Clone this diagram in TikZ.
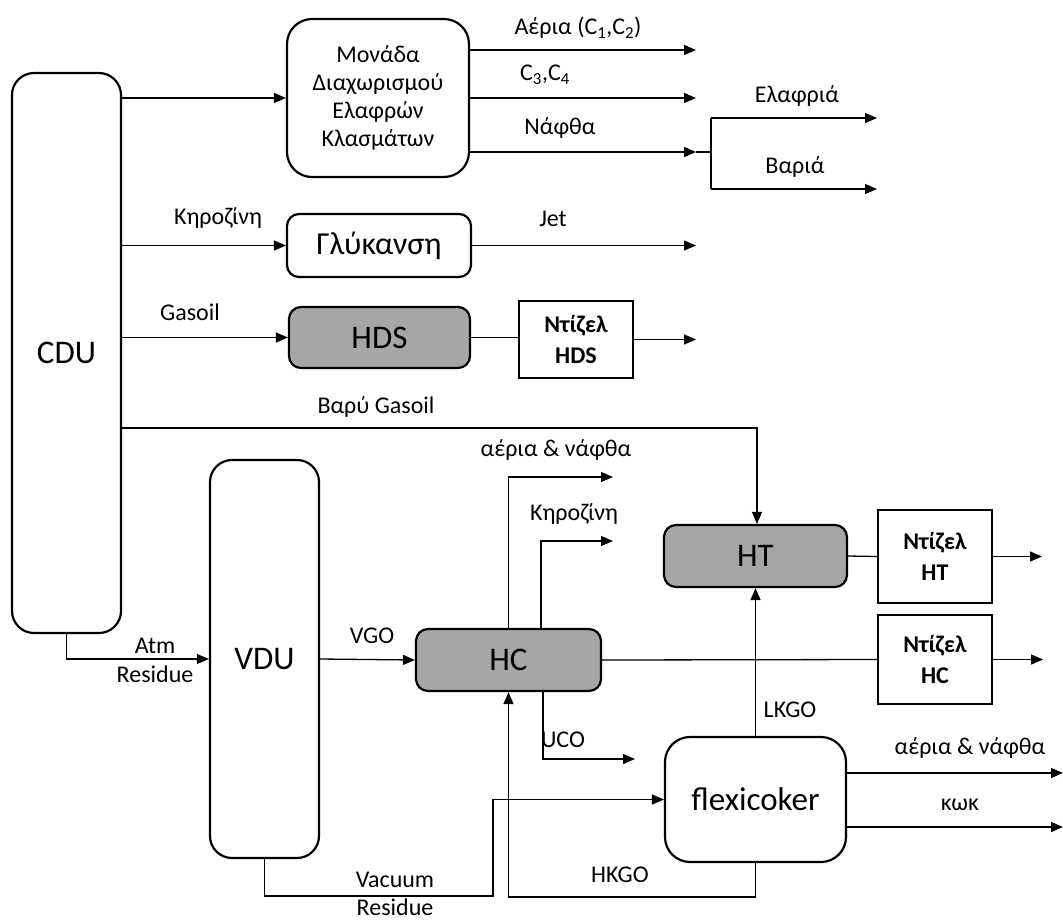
\documentclass[tikz,border=0pt]{standalone}
\usepackage{fontspec}
\setmainfont{Carlito}
\usepackage{tikz}
\usetikzlibrary{arrows.meta,positioning,calc}

\tikzset{
	unit/.style={draw,line width=2.2pt,rounded corners=12pt,align=center,inner sep=0pt,font=\fontsize{33}{36}\selectfont},
	grayunit/.style={unit,fill=black!35},
	product/.style={draw,line width=2.2pt,align=center,inner sep=0pt,font=\bfseries\fontsize{24}{31}\selectfont},
	flow/.style={line width=1.3pt,-{Triangle[length=12pt,width=10pt]}},
	pipe/.style={line width=1.3pt},
	lbl/.style={font=\fontsize{24}{29}\selectfont,align=center,inner sep=0pt}
}

\begin{document}
\begin{tikzpicture}[x=1pt,y=-1pt]
		\useasboundingbox (0,0) rectangle (1063,922);
		% units
		\node[unit,rounded corners=22pt,minimum width=109pt,minimum height=560pt] (cdu) at (66.5,353) {CDU};
		\node[unit,rounded corners=25pt,minimum width=182pt,minimum height=158pt,font=\fontsize{24}{28}\selectfont] (sep) at (378,98) {Μονάδα\\Διαχωρισμού\\Ελαφρών\\Κλασμάτων};
		\node[unit,minimum width=184pt,minimum height=63pt,font=\fontsize{32}{36}\selectfont] (glyk) at (379,245.5) {Γλύκανση};
		\node[grayunit,minimum width=181pt,minimum height=61pt] (hds) at (379.5,337.5) {HDS};
		\node[product,minimum width=114pt,minimum height=77pt] (dhds) at (576,339.5) {Ντίζελ\\HDS};
		\node[unit,rounded corners=22pt,minimum width=109pt,minimum height=398pt] (vdu) at (264.5,659) {VDU};
		\node[grayunit,minimum width=185pt,minimum height=62pt] (hc) at (508.5,660) {HC};
		\node[grayunit,minimum width=183pt,minimum height=62pt] (ht) at (755.5,556) {HT};
		\node[product,minimum width=114pt,minimum height=93pt] (dht) at (935,556.5) {Ντίζελ\\HT};
		\node[product,minimum width=114pt,minimum height=89pt] (dhc) at (935,659.5) {Ντίζελ\\HC};
		\node[unit,rounded corners=25pt,minimum width=181pt,minimum height=125pt] (flex) at (755.5,799.5) {flexicoker};
		% light ends
		\draw[flow] (cdu.east |- sep.west) -- (sep.west);
		\draw[flow] (sep.east |- 0,50) -- (696,50);
		\node[lbl] (gas) at (578,28) {Αέρια (C\textsubscript{1},C\textsubscript{2})};
		\draw[flow] (sep.east |- 0,98) -- (696,98);
		\node[lbl] (lpg) at (545,75) {C\textsubscript{3},C\textsubscript{4}};
		\coordinate (split) at (711,152);
		\draw[flow] (sep.east |- split) -- (696,152);
		\draw[pipe] (696,152) -- (split);
		\draw[pipe] (711,118) -- (711,189);
		\draw[flow] (711,118) -- (877,118);
		\draw[flow] (711,189) -- (877,189);
		\node[lbl] (naph) at (560,128) {Νάφθα};
		\node[lbl] (light) at (797,96) {Ελαφριά};
		\node[lbl] (heavy) at (795,167) {Βαριά};
		% kerosene, gasoil
		\draw[flow] (cdu.east |- glyk.west) -- (glyk.west);
		\node[lbl] (ker) at (218,218) {Κηροζίνη};
		\draw[flow] (glyk.east) -- (696,245.5);
		\node[lbl] (jet) at (553,219) {Jet};
		\draw[flow] (cdu.east |- hds.west) -- (hds.west);
		\node[lbl] (go) at (190,312) {Gasoil};
		\draw[pipe] (hds.east) -- (hds.east -| dhds.west);
		\draw[flow] (dhds.east) -- (696,339.5);
		\coordinate (hgo) at (757,428);
		\draw[flow] (cdu.east |- hgo) -- (hgo) -- (ht.north -| hgo);
		\node[lbl] (hgol) at (376,407) {Βαρύ Gasoil};
		% vacuum section
		\draw[flow] (cdu.south) |- (vdu.west);
		\node[lbl] (atm) at (155,660) {Atm\\Residue};
		\draw[flow] (vdu.east) -- (hc.west);
		\node[lbl] (vgo) at (372,636) {VGO};
		\draw[flow] (hc.north) |- (613,477);
		\node[lbl] (hcgas) at (556,450) {αέρια \& νάφθα};
		\draw[flow] (541,629) |- (613,541);
		\node[lbl] (hcker) at (574,514) {Κηροζίνη};
		\draw[flow] (543,691) |- (635,759);
		\node[lbl] (uco) at (563,740) {UCO};
		\draw[pipe] (hc.east) -- (dhc.west);
		\draw[flow] (dhc.east) -- (1043,659.5);
		\draw[pipe] (ht.east) -- (dht.west);
		\draw[flow] (dht.east) -- (1042,556.5);
		% flexicoker
		\draw[flow] (ht.south |- flex.north) -- (ht.south);
		\node[lbl] (lkgo) at (790,710) {LKGO};
		\draw[flow] (flex.east |- 0,773) -- (1063,773);
		\node[lbl] (fxgas) at (970,748) {αέρια \& νάφθα};
		\draw[flow] (flex.east |- 0,827) -- (1063,827);
		\node[lbl] (coke) at (960,805) {κωκ};
		\coordinate (hk) at (508.5,897);
		\draw[flow] (flex.south) |- (hk) -- (hc.south);
		\node[lbl] (hkgo) at (620,875) {HKGO};
		\coordinate (vr) at (493,896);
		\draw[flow] (vdu.south) |- (vr) |- (flex.west);
		\node[lbl,font=\fontsize{24}{28}\selectfont] (vres) at (395,894) {Vacuum\\Residue};
\end{tikzpicture}
\end{document}
